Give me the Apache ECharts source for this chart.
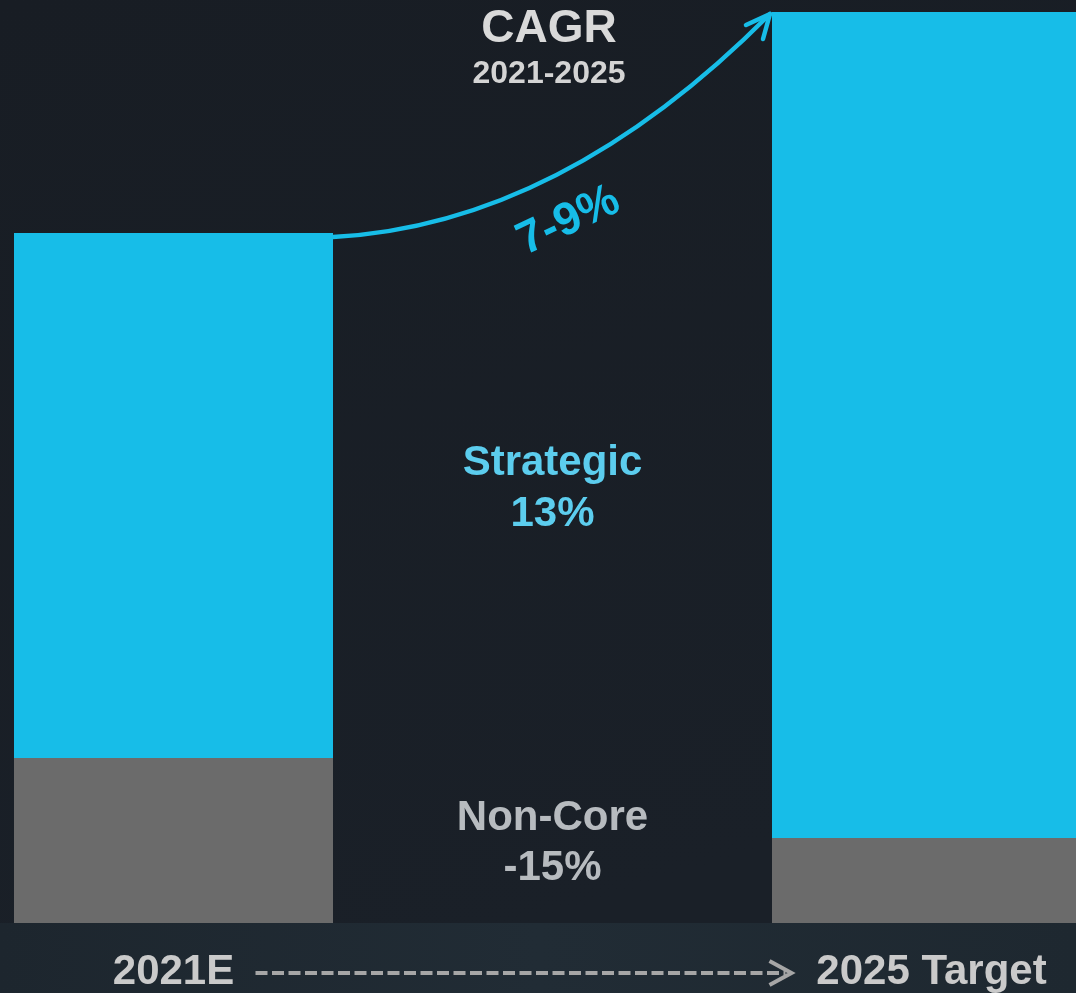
<!DOCTYPE html>
<html>
<head>
<meta charset="utf-8">
<title>Strategic vs Non-Core revenue, 2021E to 2025 Target</title>
<script src="https://cdn.jsdelivr.net/npm/echarts@6/dist/echarts.min.js"></script>
<style>
  html, body { margin: 0; padding: 0; background: #1a2027; }
  #chart { width: 1076px; height: 993px; }
</style>
</head>
<body>
<div id="chart"></div>
<script>
// Periods shown on the axis
const categories = ['2021E', '2025 Target'];
// Revenue mix (indexed units) per period
const nonCore = [1.65, 0.85];
const strategic = [5.25, 8.26];
// CAGR callouts
const cagrTitle = 'CAGR';
const cagrPeriod = '2021-2025';
const cagrTotal = '7-9%';
const strategicName = 'Strategic';
const strategicCagr = '13%';
const nonCoreName = 'Non-Core';
const nonCoreCagr = '-15%';

const BLUE = '#17bde8';
const GREY = '#6b6b6b';
const FONT = '"Liberation Sans", Arial, Helvetica, sans-serif';
const BAR_W = 319;

const chart = echarts.init(document.getElementById('chart'), null, { renderer: 'canvas' });

const option = {
  backgroundColor: {
    type: 'linear', x: 0, y: 0, x2: 0.3, y2: 1,
    colorStops: [
      { offset: 0, color: '#181d24' },
      { offset: 1, color: '#1a2028' }
    ]
  },
  animation: false,
  grid: {
    left: -205.5, top: 0, width: 1516, height: 923,
    containLabel: false, outerBoundsMode: 'none'
  },
  xAxis: {
    type: 'category',
    data: categories,
    axisLine: { show: false },
    axisTick: { show: false },
    splitLine: { show: false },
    axisLabel: {
      show: true,
      interval: 0,
      margin: 28,
      fontSize: 42,
      lineHeight: 42,
      fontWeight: 'bold',
      fontFamily: FONT,
      color: '#cacaca'
    },
    z: 5
  },
  yAxis: {
    type: 'value',
    min: 0,
    max: 9.23,
    show: false,
    splitLine: { show: false }
  },
  series: [
    {
      name: nonCoreName,
      type: 'bar',
      stack: 'total',
      barWidth: BAR_W,
      itemStyle: { color: GREY },
      data: nonCore
    },
    {
      name: strategicName,
      type: 'bar',
      stack: 'total',
      barWidth: BAR_W,
      itemStyle: { color: BLUE },
      data: strategic
    }
  ]
};

chart.setOption(option);

// Annotations anchored to the bars' pixel positions
function px(catIdx, value) {
  return chart.convertToPixel({ gridIndex: 0 }, [catIdx, value]);
}
const base0 = px(0, 0);
const base1 = px(1, 0);
const top0 = px(0, nonCore[0] + strategic[0]);
const top1 = px(1, nonCore[1] + strategic[1]);
const c0 = base0[0];
const c1 = base1[0];
const axisY = base0[1];
const midX = (c0 + c1) / 2;
const half = BAR_W / 2;

// Growth arrow from the top of the first bar to the top of the second
const p0 = [c0 + half, top0[1] + 4];
const p2 = [c1 - half - 2, top1[1] + 2];
const cp = [p0[0] + (p2[0] - p0[0]) * 0.52, p0[1] - 12];

const txt = (text, x, y, size, color, extra) => Object.assign({
  type: 'text',
  x: x, y: y,
  style: {
    text: text,
    fill: color,
    font: 'bold ' + size + 'px ' + FONT,
    align: 'center',
    verticalAlign: 'middle'
  },
  z: 20
}, extra || {});

chart.setOption({
  graphic: [
    // lighter footer band behind the axis labels
    {
      type: 'rect',
      shape: { x: 0, y: axisY, width: 1076, height: 993 - axisY },
      style: {
        fill: {
          type: 'linear', x: 0, y: 0, x2: 1, y2: 0,
          colorStops: [
            { offset: 0, color: '#1d262e' },
            { offset: 0.5, color: '#212c35' },
            { offset: 1, color: '#1e2830' }
          ]
        }
      },
      z: 1, silent: true
    },
    // curved CAGR arrow
    {
      type: 'bezierCurve',
      shape: { x1: p0[0], y1: p0[1], x2: p2[0], y2: p2[1], cpx1: cp[0], cpy1: cp[1] },
      style: { stroke: BLUE, lineWidth: 4.5, fill: null, lineCap: 'round' },
      z: 20
    },
    {
      type: 'polyline',
      shape: { points: [[p2[0] - 24, p2[1] + 11], [p2[0], p2[1]], [p2[0] - 7, p2[1] + 25]] },
      style: { stroke: BLUE, lineWidth: 4.5, fill: null, lineCap: 'round', lineJoin: 'round' },
      z: 20
    },
    txt(cagrTotal, midX + 16, 221, 46, BLUE, { rotation: 25 * Math.PI / 180 }),
    txt(cagrTitle, midX - 3.5, 29, 46, '#d9d9d9'),
    txt(cagrPeriod, midX - 3.5, 74, 32, '#d4d4d4'),
    txt(strategicName, midX, 463, 42, '#5ccdee'),
    txt(strategicCagr, midX, 514, 42, '#5ccdee'),
    txt(nonCoreName, midX, 818, 42, '#b7bbbf'),
    txt(nonCoreCagr, midX, 868, 42, '#b7bbbf'),
    // dashed timeline arrow between the period labels
    {
      type: 'line',
      shape: { x1: c0 + 82, y1: axisY + 50, x2: c1 - 146, y2: axisY + 50 },
      style: { stroke: '#a6a6a6', lineWidth: 4, lineDash: [12, 4.5] },
      z: 20
    },
    {
      type: 'polyline',
      shape: { points: [[c1 - 162, axisY + 38], [c1 - 140, axisY + 50], [c1 - 162, axisY + 62]] },
      style: { stroke: '#a6a6a6', lineWidth: 4, fill: null, lineJoin: 'miter' },
      z: 20
    }
  ]
});
</script>
</body>
</html>
